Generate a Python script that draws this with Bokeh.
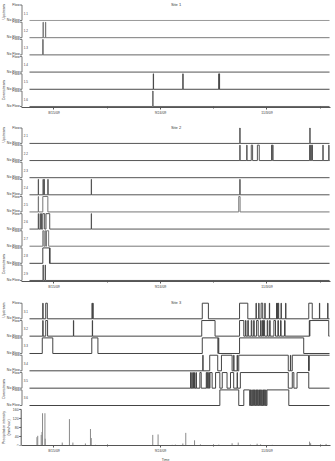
import math
import pandas as pd
from bokeh.plotting import figure
from bokeh.layouts import column
from bokeh.models import FixedTicker, Range1d, Title
from bokeh.core.properties import value
from bokeh.embed import file_html
from bokeh.resources import INLINE

FONT = "Liberation Sans"
TXT = "#3a3a3a"
AXC = "#555555"

# ---------------- data (day offsets from REF_DATE) ----------------
REF_DATE = pd.Timestamp("2009-08-15")
X_START_DAY = -12.2
X_END_DAY = 103.86
DATA_START_DAY = -9.2
DATA_END_DAY = 103.5

TICK_DATES = ["2009-08-15", "2009-09-24", "2009-11-03"]
TICK_LABELS = ["8/15/09", "9/24/09", "11/3/09"]
MINOR_TICK_DATES = ["2009-09-04", "2009-10-14", "2009-11-23"]

SITE1_ROWS = ["1.1", "1.2", "1.3", "1.4", "1.5", "1.6"]
SITE1_FLOW = [
    [],
    [(-4.1, -4.0), (-3.2, -3.1)],
    [(-4.2, -4.1)],
    [],
    [(37.3, 37.4), (48.4, 48.5), (61.9, 62.0), (62.1, 62.2)],
    [(37.1, 37.2)],
]
SITE1_COLORS = ["#9a9a9a", "#7a7a7a", "#666666", "#555555", "#4a4a4a", "#666666"]

SITE2_ROWS = ["2.1", "2.2", "2.3", "2.4", "2.5", "2.6", "2.7", "2.8", "2.9"]
SITE2_FLOW = [
    [(69.8, 69.9), (96.1, 96.2)],
    [(69.8, 69.9), (72.4, 72.5), (74.1, 74.6), (76.4, 77.1), (81.7, 81.9), (82.0, 82.3),
     (96.0, 96.2), (96.4, 96.6), (96.8, 97.1), (101.0, 101.1), (103.2, 103.3)],
    [],
    [(-5.9, -5.8), (-4.1, -4.0), (-3.7, -3.6), (-2.3, -2.2), (14.0, 14.1), (69.8, 69.9)],
    [(-5.9, -5.8), (-4.2, -2.3), (69.4, 69.9)],
    [(-5.9, -5.8), (-5.2, -5.1), (-4.7, -4.6), (-4.2, -3.5), (-3.0, -1.6), (14.0, 14.1)],
    [(-4.2, -3.8), (-3.4, -3.1), (-2.8, -2.0)],
    [(-4.2, -1.7), (-1.6, -1.5)],
    [(-4.1, -4.0), (-3.3, -3.2)],
]
SITE2_COLORS = ["#555555", "#555555", "#555555", "#555555", "#777777",
                "#555555", "#777777", "#444444", "#555555"]

SITE3_ROWS = ["3.1", "3.2", "3.3", "3.4", "3.5", "3.6"]
SITE3_FLOW = [
    [(-4.2, -4.1), (-3.1, -2.5), (14.3, 14.4), (14.6, 14.7), (55.7, 58.0), (69.7, 72.8),
     (75.9, 76.0), (76.9, 77.0), (77.8, 78.4), (79.2, 79.3), (80.9, 81.0), (83.6, 83.7),
     (83.9, 84.0), (84.2, 84.4), (85.3, 85.4), (87.0, 87.1), (95.7, 97.0), (99.7, 99.8),
     (102.8, 102.9)],
    [(-4.2, -4.1), (-3.1, -2.4), (7.3, 7.4), (14.4, 14.5), (55.5, 60.5), (69.7, 71.3),
     (71.9, 72.1), (72.8, 73.0), (74.1, 74.3), (75.0, 75.2), (76.1, 76.7), (77.6, 77.8),
     (78.3, 78.5), (78.7, 79.1), (80.1, 80.3), (81.0, 81.2), (82.6, 83.2), (84.1, 84.3),
     (85.1, 85.3), (86.6, 86.8), (95.9, 96.0), (96.1, 103.2)],
    [(-4.4, -0.45), (14.2, 16.5), (55.7, 61.6), (61.7, 61.9), (69.7, 93.8)],
    [(55.9, 56.0), (58.5, 61.5), (62.9, 66.9), (67.5, 67.6), (68.8, 68.9), (69.4, 88.0),
     (88.8, 88.9), (89.5, 95.6), (95.9, 103.6)],
    [(51.3, 51.4), (51.8, 51.9), (52.3, 52.4), (52.8, 52.9), (53.4, 53.5), (54.8, 55.3),
     (57.2, 57.4), (57.6, 57.8), (58.1, 58.4), (58.6, 59.4), (60.7, 62.3), (63.2, 65.0),
     (66.3, 67.5), (68.8, 68.9), (70.0, 88.0), (89.5, 90.1), (91.3, 95.7)],
    [(62.3, 69.4), (71.3, 73.5), (73.8, 74.0), (74.3, 74.5), (74.8, 75.0), (75.3, 75.6),
     (75.9, 76.1), (76.4, 76.6), (76.9, 77.2), (77.5, 77.7), (78.0, 78.2), (78.5, 78.7),
     (79.0, 79.2), (79.5, 79.7), (80.0, 88.2)],
]
SITE3_COLORS = ["#444444", "#444444", "#444444", "#444444", "#444444", "#444444"]

PRECIP_DAY = [-6.4, -6.1, -4.8, -4.5, -4.3, -3.4, -3.3, 3.1, 5.8, 7.1, 11.8, 13.7, 14.0,
              15.6, 25.0, 37.1, 39.1, 44.4, 45.6, 48.4, 49.5, 52.8, 55.0, 61.9, 66.9,
              69.2, 73.8, 76.3, 77.6, 82.0, 96.0, 96.4, 100.7, 102.2]
PRECIP_MMH = [37, 43, 47, 60, 143, 143, 30, 13, 117, 13, 9, 73, 33,
              3, 2, 47, 49, 3, 4, 9, 56, 23, 5, 4, 10,
              13, 4, 8, 5, 3, 17, 10, 3, 7]
PRECIP_TICKS = [0, 40, 80, 120, 160]
PRECIP_LABEL = ["Precipitation intensity", "(mm/hour)"]

# ---------------- helpers ----------------
DAY_MS = 86400000.0
LEFT_PX = 21
PX_PER_DAY = (335 - LEFT_PX - 5) / (X_END_DAY - X_START_DAY)
CANVAS0_DAY = X_START_DAY - LEFT_PX / PX_PER_DAY


def ms(day):
    return (REF_DATE + pd.Timedelta(days=day)).value / 1e6


def px_x(px):
    """data x for a canvas pixel column (every panel's frame spans the whole width)"""
    return ms(CANVAS0_DAY) + px / PX_PER_DAY * DAY_MS


def date_ms(s):
    return pd.Timestamp(s).value / 1e6


def base_fig(height, y_start, y_end, bottom, with_xaxis):
    p = figure(width=335, height=height,
               x_range=Range1d(ms(CANVAS0_DAY), ms(X_END_DAY)),
               y_range=Range1d(y_start, y_end), x_axis_type="datetime",
               x_axis_location="below" if with_xaxis else None, y_axis_location=None,
               output_backend="svg", toolbar_location=None,
               min_border_left=0, min_border_right=5,
               min_border_top=0, min_border_bottom=bottom)
    p.outline_line_color = None
    p.xgrid.visible = False
    p.ygrid.visible = False
    if with_xaxis:
        ax = p.xaxis[0]
        ax.ticker = FixedTicker(ticks=[date_ms(d) for d in TICK_DATES],
                                minor_ticks=[date_ms(d) for d in MINOR_TICK_DATES])
        ax.major_label_overrides = {date_ms(d): l for d, l in zip(TICK_DATES, TICK_LABELS)}
        ax.bounds = (ms(X_START_DAY), ms(X_END_DAY))
        ax.major_label_text_font = FONT
        ax.major_label_text_font_size = "3.5px"
        ax.major_label_text_color = TXT
        ax.major_label_standoff = 1
        ax.major_tick_out = 2
        ax.major_tick_in = 0
        ax.minor_tick_out = 1
        ax.minor_tick_in = 1
        ax.axis_line_color = AXC
        ax.major_tick_line_color = AXC
        ax.minor_tick_line_color = AXC
    return p


def site_fig(title, rows, flows, colors, height, bottom, with_xaxis, pitch_px, first_top_px):
    n = len(rows)
    upp = 10.0 / pitch_px                      # data units per pixel
    frame_h = height - bottom
    top_val = 10 * (n - 1) + 9
    y_end = top_val + first_top_px * upp
    y_start = y_end - frame_h * upp
    p = base_fig(height, y_start, y_end, bottom, with_xaxis)

    bx = px_x(21.5)
    bl = px_x(19.5)
    for i, (name, ivs, col) in enumerate(zip(rows, flows, colors)):
        base = 10 * (n - 1 - i)
        topv = base + 9
        xs, ys = [ms(DATA_START_DAY)], [base]
        ended_top = False
        for s, e in ivs:
            if e >= DATA_END_DAY:
                xs += [ms(s), ms(s), ms(DATA_END_DAY)]
                ys += [base, topv, topv]
                ended_top = True
            else:
                xs += [ms(s), ms(s), ms(e), ms(e)]
                ys += [base, topv, topv, base]
        if not ended_top:
            xs.append(ms(DATA_END_DAY))
            ys.append(base)
        p.line(xs, ys, line_color=col, line_width=1)
        # bracket
        p.line([bl, bx, bx, bl], [topv, topv, base, base], line_color=AXC, line_width=0.8)
        p.text(x=[bl, bl], y=[topv, base + 0.5 * upp], text=["Flow", "No Flow"],
               x_offset=-0.3, text_align="right", text_baseline="middle",
               text_font=value(FONT), text_font_size="3.5px", text_color=TXT)
        p.text(x=[ms(DATA_START_DAY)], y=[base + 4.5], text=[name], x_offset=-1.5,
               text_align="right", text_baseline="middle", text_font=value(FONT),
               text_font_size="3px", text_color=TXT)

    mid = (ms(X_START_DAY) + ms(X_END_DAY)) / 2
    p.text(x=[mid], y=[top_val + 0.5 * upp], text=[title], text_align="center",
           text_baseline="middle", text_font=value(FONT), text_font_size="4px",
           text_color=TXT)
    lx = px_x(3)
    p.text(x=[lx, lx], y=[10 * (n - 1) + 5, 9.5], text=["Upstream", "Downstream"],
           angle=math.pi / 2, text_align="center", text_baseline="middle",
           text_font=value(FONT), text_font_size="3.5px", text_color=TXT)
    return p


p1 = site_fig("Site 1", SITE1_ROWS, SITE1_FLOW, SITE1_COLORS, 118, 11, True, 17.2, 4.5)
p2 = site_fig("Site 2", SITE2_ROWS, SITE2_FLOW, SITE2_COLORS, 174, 11, True, 17.13, 9.5)
p3 = site_fig("Site 3", SITE3_ROWS, SITE3_FLOW, SITE3_COLORS, 115, 0, False, 17.34, 10.7)

# ---------------- precipitation panel ----------------
P_H, P_BOTTOM = 54, 14
p_upp = 160 / 38.0                      # mm/h per pixel (160 sits 2 px below the frame top)
p_end = 160 + 2 * p_upp
p_start = p_end - (P_H - P_BOTTOM) * p_upp
p4 = base_fig(P_H, p_start, p_end, P_BOTTOM, True)
p4.segment(x0=[ms(d) for d in PRECIP_DAY], y0=[0] * len(PRECIP_DAY),
           x1=[ms(d) for d in PRECIP_DAY], y1=PRECIP_MMH, line_color="#8a8a8a", line_width=1)
ax_x = px_x(20.7)
tk_x = px_x(18.7)
p4.line([ax_x, ax_x], [PRECIP_TICKS[0], PRECIP_TICKS[-1]], line_color=AXC, line_width=1)
p4.segment(x0=[tk_x] * len(PRECIP_TICKS), y0=PRECIP_TICKS, x1=[ax_x] * len(PRECIP_TICKS),
           y1=PRECIP_TICKS, line_color=AXC, line_width=1)
p4.text(x=[tk_x] * len(PRECIP_TICKS), y=PRECIP_TICKS, text=[str(t) for t in PRECIP_TICKS],
        x_offset=-0.5, text_align="right", text_baseline="middle", text_font=value(FONT),
        text_font_size="3.5px", text_color=TXT)
p4.text(x=[px_x(3.3), px_x(8.3)], y=[PRECIP_TICKS[-1] / 2] * 2, text=PRECIP_LABEL,
        angle=math.pi / 2, text_align="center", text_baseline="middle",
        text_font=value(FONT), text_font_size="3.5px", text_color=TXT)
p4.add_layout(Title(text="Time", align="center", offset=12, standoff=0,
                    text_font=FONT, text_font_size="3.5px", text_font_style="normal",
                    text_color=TXT), "below")

layout = column(p1, p2, p3, p4, spacing=0)
open("out.html", "w").write(file_html(layout, INLINE))
